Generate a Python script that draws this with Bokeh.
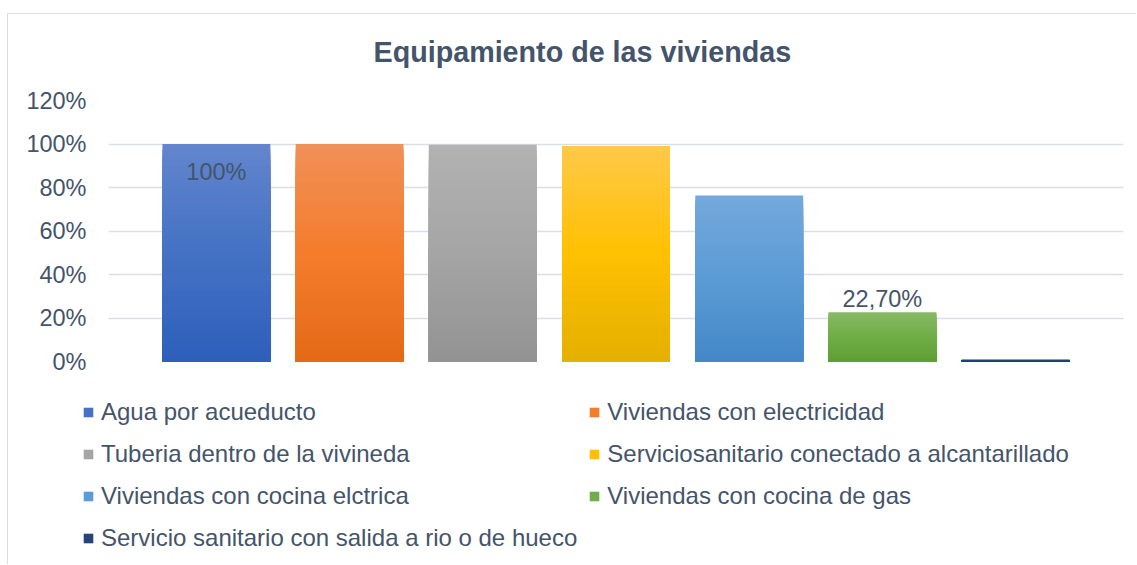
from bokeh.plotting import figure
from bokeh.models import (ColumnDataSource, Legend, LegendItem, FixedTicker,
                          PrintfTickFormatter, Range1d, Title)
from bokeh.core.properties import value
from bokeh.embed import file_html
from bokeh.resources import INLINE

# ---------------- data ----------------
chart_title = "Equipamiento de las viviendas"
categories = [
    "Agua por acueducto",
    "Viviendas con electricidad",
    "Tuberia dentro de la vivineda",
    "Serviciosanitario conectado a alcantarillado",
    "Viviendas con cocina elctrica",
    "Viviendas con cocina de gas",
    "Servicio sanitario con salida a rio o de hueco",
]
values = [100, 100, 99.6, 99.1, 76.3, 22.7, 0.8]
data_labels = ["100%", "", "", "", "", "22,70%", ""]
label_position = ["inside", None, None, None, None, "outside", None]
y_ticks = [0, 20, 40, 60, 80, 100, 120]

# ---------------- style ----------------
top_colors = ["#6385CD", "#F19058", "#B2B2B2", "#FFC949", "#74A9DC", "#89BA67", "#38578E"]
mid_colors = ["#4472C4", "#F47C2C", "#A5A5A5", "#FFC000", "#5B9BD5", "#70AD47", "#264478"]
bot_colors = ["#2D5FBB", "#E46A17", "#939393", "#E4B000", "#4488C8", "#5E9F34", "#1E3C6C"]
FONT = "Liberation Sans"
TEXT = "#44546A"
GRID = "#DADFE7"
FRAME_LINE = "1px solid #D9DEE6"
N = 40


def hex2rgb(h):
    h = h.lstrip("#")
    return tuple(int(h[k:k + 2], 16) for k in (0, 2, 4))


def mix(c1, c2, t):
    a, b = hex2rgb(c1), hex2rgb(c2)
    return "#%02x%02x%02x" % tuple(round(a[k] + (b[k] - a[k]) * t) for k in range(3))


def grad(i, t):
    if t < 0.5:
        return mix(bot_colors[i], mid_colors[i], t / 0.5)
    return mix(mid_colors[i], top_colors[i], (t - 0.5) / 0.5)


# slices for a vertical gradient: tallest drawn first, shorter ones on top
xs, tops, cols = [], [], []
legend_index = []
for i, v in enumerate(values):
    for j in reversed(range(N)):
        if j == N // 2:
            legend_index.append(len(xs))
        xs.append(i)
        tops.append(v * (j + 1) / N)
        cols.append(grad(i, (j + 0.5) / N))
bars = ColumnDataSource(dict(x=xs, top=tops, color=cols))

# ---------------- main chart ----------------
p = figure(width=1129, height=367,
           x_range=Range1d(-0.81, len(values) - 1 + 0.81),
           y_range=Range1d(0, 120),
           output_backend="svg", toolbar_location=None,
           min_border_left=100, min_border_right=14,
           min_border_top=86, min_border_bottom=20,
           title=chart_title)
p.styles = {"margin-left": "7px", "margin-top": "13px",
            "border-left": FRAME_LINE, "border-top": FRAME_LINE}
p.outline_line_color = None
p.background_fill_color = "white"
p.border_fill_color = "white"

p.title.text_font = FONT
p.title.text_font_size = "28.7px"
p.title.text_font_style = "bold"
p.title.text_color = TEXT
p.title.align = "left"
p.title.offset = 265
p.title.standoff = 0
# blank spacer between the title and the plot area
p.add_layout(Title(text=" ", text_font_size="1px", standoff=30), "above")

r = p.vbar(x="x", top="top", bottom=0, width=0.81, fill_color="color",
           line_color=None, source=bars)

# data labels
ins = [i for i, pos in enumerate(label_position) if pos == "inside"]
outs = [i for i, pos in enumerate(label_position) if pos == "outside"]
src_in = ColumnDataSource(dict(x=ins, y=[values[i] for i in ins],
                               t=[data_labels[i] for i in ins]))
src_out = ColumnDataSource(dict(x=outs, y=[values[i] for i in outs],
                                t=[data_labels[i] for i in outs]))
p.text(x="x", y="y", text="t", source=src_in, text_align="center",
       text_baseline="middle", y_offset=28, text_font=value(FONT),
       text_font_size="23.5px", text_color=TEXT)
p.text(x="x", y="y", text="t", source=src_out, text_align="center",
       text_baseline="bottom", y_offset=0, text_font=value(FONT),
       text_font_size="23.5px", text_color=TEXT)

# axes & grid
p.xaxis.visible = False
p.xgrid.visible = False
p.yaxis.ticker = FixedTicker(ticks=y_ticks)
p.yaxis.formatter = PrintfTickFormatter(format="%d%%")
p.yaxis.axis_line_color = None
p.yaxis.major_tick_line_color = None
p.yaxis.minor_tick_line_color = None
p.yaxis.major_label_standoff = 16
p.yaxis.major_label_text_font = FONT
p.yaxis.major_label_text_font_size = "23.5px"
p.yaxis.major_label_text_color = TEXT
p.ygrid.ticker = FixedTicker(ticks=y_ticks)
p.ygrid.grid_line_color = GRID
p.ygrid.grid_line_width = 1.5

# ---------------- legend panel (separate root, no frame alignment) ----------------
lg = figure(width=1129, height=184,
            x_range=Range1d(-1000, -990),   # bars stay out of this panel's view
            y_range=Range1d(-1000, -990),
            output_backend="svg", toolbar_location=None,
            min_border=0, min_border_left=0, min_border_right=0,
            min_border_top=0, min_border_bottom=0)
lg.styles = {"margin-left": "7px", "border-left": FRAME_LINE}
lg.axis.visible = False
lg.grid.visible = False
lg.outline_line_color = None
lg.background_fill_color = "white"
lg.border_fill_color = "white"
r2 = lg.vbar(x="x", top="top", bottom=0, width=0.81, fill_color="color",
             line_color=None, source=bars)

items = [LegendItem(label=value(c), renderers=[r2], index=legend_index[i])
         for i, c in enumerate(categories)]
legend = Legend(items=items, location=(74, 11), orientation="horizontal",
                ncols=2, label_text_font=FONT, label_text_font_size="24px",
                label_text_color=TEXT, label_height=31, glyph_height=12,
                glyph_width=12, label_standoff=7, spacing=11, padding=0,
                margin=0, border_line_color=None, background_fill_alpha=0)
lg.add_layout(legend, "center")

open("out.html", "w").write(file_html([p, lg], INLINE, title=chart_title))
